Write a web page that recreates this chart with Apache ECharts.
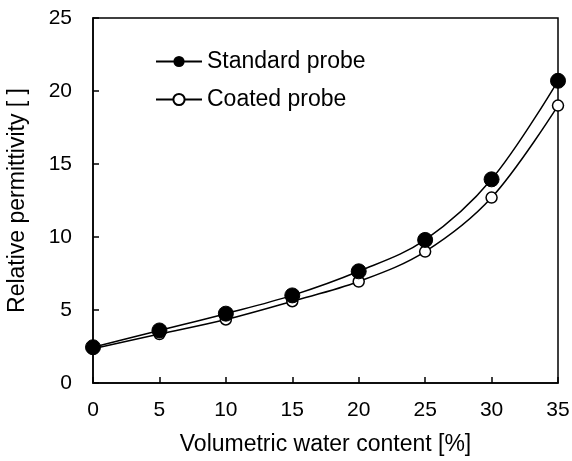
<!DOCTYPE html>
<html>
<head>
<meta charset="utf-8">
<script src="https://cdn.jsdelivr.net/npm/echarts@6/dist/echarts.min.js"></script>
<style>
  html, body { margin: 0; padding: 0; background: #fff; }
  #chart { width: 572px; height: 461px; }
</style>
</head>
<body>
<div id="chart"></div>
<script>
// Volumetric water content [%]
const waterContent = [0, 5, 10, 15, 20, 25, 30, 35];
// Relative permittivity measured by each probe
const standardProbe = [2.45, 3.6, 4.75, 6.0, 7.65, 9.8, 13.95, 20.7];
const coatedProbe = [2.35, 3.35, 4.35, 5.6, 6.95, 9.0, 12.7, 19.0];

const font = 'Liberation Sans, Arial, sans-serif';

function pairs(xs, ys) {
  return xs.map((x, i) => [x, ys[i]]);
}

const chart = echarts.init(document.getElementById('chart'), null, { renderer: 'canvas' });

chart.setOption({
  animation: false,
  backgroundColor: '#fff',
  grid: {
    left: 93, right: 14, top: 18, bottom: 78,
    outerBoundsMode: 'none',
    show: true, borderColor: '#000', borderWidth: 1.5, backgroundColor: 'transparent'
  },
  legend: {
    left: 150, top: 45, orient: 'vertical',
    itemWidth: 46, itemHeight: 14, itemGap: 15,
    textStyle: { fontFamily: font, fontSize: 23, color: '#000' },
    data: ['Standard probe', 'Coated probe']
  },
  xAxis: {
    type: 'value', min: 0, max: 35, interval: 5,
    name: 'Volumetric water content [%]', nameLocation: 'middle', nameGap: 50,
    nameTextStyle: { fontFamily: font, fontSize: 23, color: '#000' },
    axisLine: { lineStyle: { color: '#000', width: 1.5 } },
    axisTick: { inside: true, length: 6, lineStyle: { color: '#000', width: 1.5 } },
    axisLabel: { fontFamily: font, fontSize: 21, color: '#000', margin: 17 },
    splitLine: { show: false }
  },
  yAxis: {
    type: 'value', min: 0, max: 25, interval: 5,
    name: 'Relative permittivity [ ]', nameLocation: 'middle', nameGap: 64,
    nameTextStyle: { fontFamily: font, fontSize: 23, color: '#000' },
    axisLine: { lineStyle: { color: '#000', width: 1.5 } },
    axisTick: { inside: true, length: 6, lineStyle: { color: '#000', width: 1.5 } },
    axisLabel: { fontFamily: font, fontSize: 21, color: '#000', margin: 21 },
    splitLine: { show: false }
  },
  series: [
    {
      name: 'Standard probe', type: 'line', smooth: 0.35,
      data: pairs(waterContent, standardProbe),
      symbol: 'circle', symbolSize: 15,
      itemStyle: { color: '#000', borderColor: '#000' },
      lineStyle: { color: '#000', width: 1.5 },
      z: 3
    },
    {
      name: 'Coated probe', type: 'line', smooth: 0.35,
      data: pairs(waterContent, coatedProbe),
      symbol: 'circle', symbolSize: 11,
      itemStyle: { color: '#fff', borderColor: '#000', borderWidth: 1.5 },
      lineStyle: { color: '#000', width: 1.5 },
      z: 2
    }
  ]
});
</script>
</body>
</html>
